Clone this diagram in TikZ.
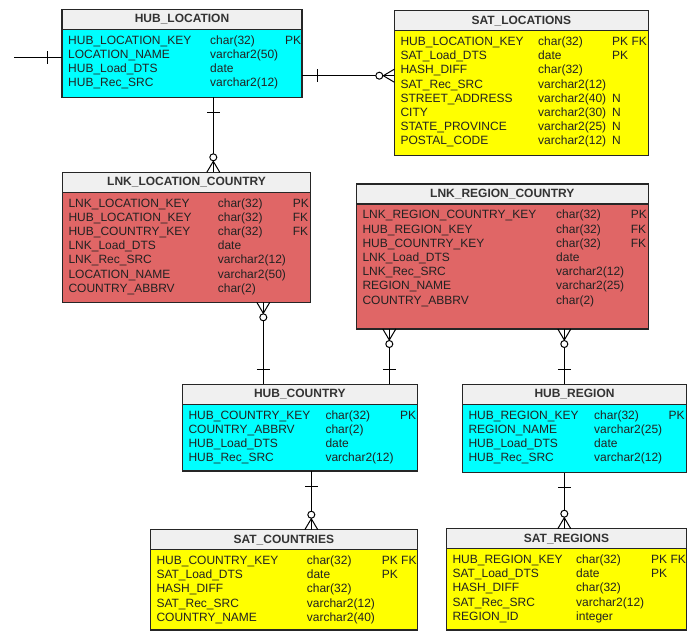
\documentclass[tikz,border=0pt]{standalone}
\usepackage{fontspec}
\setmainfont{Liberation Sans}
\usetikzlibrary{calc}

\definecolor{hubcyan}{HTML}{00FFFF}
\definecolor{satyellow}{HTML}{FFFF00}
\definecolor{lnkred}{HTML}{E06666}
\definecolor{headgray}{HTML}{F0F0F0}
\definecolor{fieldtext}{HTML}{222222}

\newcommand{\onetick}[2]{%
  \draw[link] ($(#1)!15pt!(#2)!6.5pt!90:(#2)$) -- ($(#1)!15pt!(#2)!6.5pt!-90:(#2)$);}
\newcommand{\erlink}[2]{%
  \draw[link] (#1) -- (#2);
  \onetick{#1}{#2}
  \draw[link] ($(#2)!11pt!(#1)$) -- ($(#2)!6.5pt!90:(#1)$)
              ($(#2)!11pt!(#1)$) -- ($(#2)!6.5pt!-90:(#1)$);
  \draw[link, fill=white] ($(#2)!15pt!(#1)$) circle (3.5pt);}
\newcommand{\fields}[4]{%
  \foreach \n/\t/\k [count=\i] in {#4} {
    \node[fld] (#1-n\i) at ($(#1h.north west)+(6,20.6+14.2*\i)$) {\n};
    \node[fld] (#1-t\i) at ($(#1h.north west)+(#2,20.6+14.2*\i)$) {\t};
    \node[fld] (#1-k\i) at ($(#1h.north west)+(#3,20.6+14.2*\i)$) {\k};
  }}

\begin{document}
\begin{tikzpicture}
  [x=1pt,y=-1pt,font=\fontsize{12}{14}\selectfont,
   tbl/.style={draw=black!85,line width=1.5pt,anchor=north west,inner sep=0pt,outer sep=0pt},
   head/.style={tbl,fill=headgray,text=black!80,font=\fontsize{12}{14}\selectfont\bfseries,minimum height=20pt},
   hub/.style={tbl,fill=hubcyan},
   lnk/.style={tbl,fill=lnkred},
   sat/.style={tbl,fill=satyellow},
   fld/.style={anchor=base west,inner sep=0pt,text=fieldtext},
   link/.style={line width=1pt,draw=black}]
  \useasboundingbox (0,0) rectangle (700,641);

  \node[head,minimum width=240pt] (hlh) at (62,9.3) {HUB\_LOCATION};
  \node[hub,minimum width=240pt,minimum height=68pt] (hl) at (hlh.south west) {};
  \fields{hl}{148}{223}{HUB\_LOCATION\_KEY/char(32)/PK, LOCATION\_NAME/varchar2(50)/{},
    HUB\_Load\_DTS/date/{}, HUB\_Rec\_SRC/varchar2(12)/{}}

  \node[head,minimum width=254pt] (slh) at (394.3,10.7) {SAT\_LOCATIONS};
  \node[sat,minimum width=254pt,minimum height=124.7pt] (sl) at (slh.south west) {};
  \fields{sl}{143.7}{217.7}{HUB\_LOCATION\_KEY/char(32)/PK FK, SAT\_Load\_DTS/date/PK,
    HASH\_DIFF/char(32)/{}, SAT\_Rec\_SRC/varchar2(12)/{}, STREET\_ADDRESS/varchar2(40)/N,
    CITY/varchar2(30)/N, STATE\_PROVINCE/varchar2(25)/N, POSTAL\_CODE/varchar2(12)/N}

  \node[head,minimum width=248.4pt] (llch) at (62.3,172.3) {LNK\_LOCATION\_COUNTRY};
  \node[lnk,minimum width=248.4pt,minimum height=110pt] (llc) at (llch.south west) {};
  \fields{llc}{155.4}{230.4}{LNK\_LOCATION\_KEY/char(32)/PK, HUB\_LOCATION\_KEY/char(32)/FK,
    HUB\_COUNTRY\_KEY/char(32)/FK, LNK\_Load\_DTS/date/{}, LNK\_Rec\_SRC/varchar2(12)/{},
    LOCATION\_NAME/varchar2(50)/{}, COUNTRY\_ABBRV/char(2)/{}}

  \node[head,minimum width=292pt] (lrch) at (356.3,184) {LNK\_REGION\_COUNTRY};
  \node[lnk,minimum width=292pt,minimum height=125pt] (lrc) at (lrch.south west) {};
  \fields{lrc}{199.7}{274.4}{LNK\_REGION\_COUNTRY\_KEY/char(32)/PK, HUB\_REGION\_KEY/char(32)/FK,
    HUB\_COUNTRY\_KEY/char(32)/FK, LNK\_Load\_DTS/date/{}, LNK\_Rec\_SRC/varchar2(12)/{},
    REGION\_NAME/varchar2(25)/{}, COUNTRY\_ABBRV/char(2)/{}}

  \node[head,minimum width=235pt] (hch) at (182.3,384.3) {HUB\_COUNTRY};
  \node[hub,minimum width=235pt,minimum height=66.7pt] (hc) at (hch.south west) {};
  \fields{hc}{143}{217.7}{HUB\_COUNTRY\_KEY/char(32)/PK, COUNTRY\_ABBRV/char(2)/{},
    HUB\_Load\_DTS/date/{}, HUB\_Rec\_SRC/varchar2(12)/{}}

  \node[head,minimum width=224.4pt] (hrh) at (462.3,384.3) {HUB\_REGION};
  \node[hub,minimum width=224.4pt,minimum height=68.4pt] (hr) at (hrh.south west) {};
  \fields{hr}{131.7}{206}{HUB\_REGION\_KEY/char(32)/PK, REGION\_NAME/varchar2(25)/{},
    HUB\_Load\_DTS/date/{}, HUB\_Rec\_SRC/varchar2(12)/{}}

  \node[head,minimum width=267pt] (sch) at (150.3,529.7) {SAT\_COUNTRIES};
  \node[sat,minimum width=267pt,minimum height=80.5pt] (sc) at (sch.south west) {};
  \fields{sc}{156.4}{231.4}{HUB\_COUNTRY\_KEY/char(32)/PK FK, SAT\_Load\_DTS/date/PK,
    HASH\_DIFF/char(32)/{}, SAT\_Rec\_SRC/varchar2(12)/{}, COUNTRY\_NAME/varchar2(40)/{}}

  \node[head,minimum width=240.4pt] (srh) at (446.3,528.7) {SAT\_REGIONS};
  \node[sat,minimum width=240.4pt,minimum height=81.3pt] (sr) at (srh.south west) {};
  \fields{sr}{129.7}{204.7}{HUB\_REGION\_KEY/char(32)/PK FK, SAT\_Load\_DTS/date/PK,
    HASH\_DIFF/char(32)/{}, SAT\_Rec\_SRC/varchar2(12)/{}, REGION\_ID/integer/{}}

  \coordinate (ext) at (14,57);
  \draw[link] (ext) -- (hl.west |- ext);
  \onetick{hl.west |- ext}{ext}
  \erlink{hl.east |- 0,75.7}{sl.west |- 0,75.7}
  \foreach \one/\many/\x in {hl.south/llch.north/213.3, hch.north/llc.south/263.3,
      hch.north/lrc.south/389.3, hrh.north/lrc.south/564.3,
      hc.south/sch.north/311.3, hr.south/srh.north/564.3}
    \erlink{\one -| \x,0}{\many -| \x,0};

\end{tikzpicture}
\end{document}
